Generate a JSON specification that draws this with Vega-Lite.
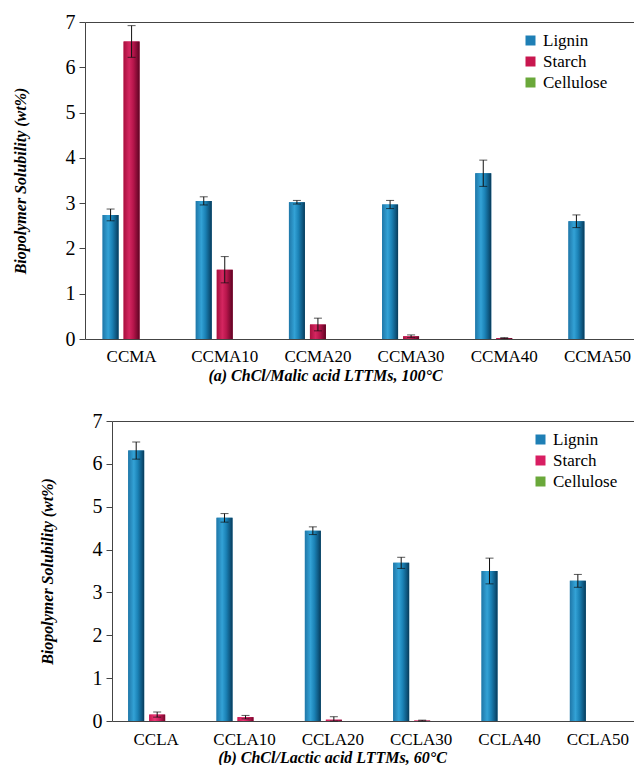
{
  "$schema": "https://vega.github.io/schema/vega-lite/v6.json",
  "padding": {"left": 4, "top": 12, "right": 0, "bottom": 0},
  "background": "white",
  "config": {
    "font": "Liberation Serif",
    "view": {"stroke": null},
    "axis": {"labelFont": "Liberation Serif", "titleFont": "Liberation Serif", "labelColor": "#000", "titleColor": "#000", "domainColor": "#444", "tickColor": "#444"},
    "legend": {"labelFont": "Liberation Serif", "labelColor": "#000"}
  },
  "resolve": {"scale": {"color": "independent"}, "legend": {"color": "independent"}},
  "datasets": {
    "a": [
      {"solvent": "CCMA", "polymer": "Lignin", "value": 2.74, "lo": 2.61, "hi": 2.87},
      {"solvent": "CCMA", "polymer": "Starch", "value": 6.57, "lo": 6.22, "hi": 6.92},
      {"solvent": "CCMA", "polymer": "Cellulose", "value": 0, "lo": null, "hi": null},
      {"solvent": "CCMA10", "polymer": "Lignin", "value": 3.05, "lo": 2.96, "hi": 3.14},
      {"solvent": "CCMA10", "polymer": "Starch", "value": 1.53, "lo": 1.24, "hi": 1.82},
      {"solvent": "CCMA10", "polymer": "Cellulose", "value": 0, "lo": null, "hi": null},
      {"solvent": "CCMA20", "polymer": "Lignin", "value": 3.02, "lo": 2.98, "hi": 3.06},
      {"solvent": "CCMA20", "polymer": "Starch", "value": 0.32, "lo": 0.18, "hi": 0.46},
      {"solvent": "CCMA20", "polymer": "Cellulose", "value": 0, "lo": null, "hi": null},
      {"solvent": "CCMA30", "polymer": "Lignin", "value": 2.97, "lo": 2.88, "hi": 3.06},
      {"solvent": "CCMA30", "polymer": "Starch", "value": 0.06, "lo": 0.03, "hi": 0.09},
      {"solvent": "CCMA30", "polymer": "Cellulose", "value": 0, "lo": null, "hi": null},
      {"solvent": "CCMA40", "polymer": "Lignin", "value": 3.66, "lo": 3.37, "hi": 3.95},
      {"solvent": "CCMA40", "polymer": "Starch", "value": 0.02, "lo": 0.01, "hi": 0.03},
      {"solvent": "CCMA40", "polymer": "Cellulose", "value": 0, "lo": null, "hi": null},
      {"solvent": "CCMA50", "polymer": "Lignin", "value": 2.6, "lo": 2.46, "hi": 2.74},
      {"solvent": "CCMA50", "polymer": "Starch", "value": 0, "lo": null, "hi": null},
      {"solvent": "CCMA50", "polymer": "Cellulose", "value": 0, "lo": null, "hi": null}
    ],
    "b": [
      {"solvent": "CCLA", "polymer": "Lignin", "value": 6.31, "lo": 6.11, "hi": 6.51},
      {"solvent": "CCLA", "polymer": "Starch", "value": 0.15, "lo": 0.09, "hi": 0.21},
      {"solvent": "CCLA", "polymer": "Cellulose", "value": 0, "lo": null, "hi": null},
      {"solvent": "CCLA10", "polymer": "Lignin", "value": 4.74, "lo": 4.64, "hi": 4.84},
      {"solvent": "CCLA10", "polymer": "Starch", "value": 0.09, "lo": 0.05, "hi": 0.13},
      {"solvent": "CCLA10", "polymer": "Cellulose", "value": 0, "lo": null, "hi": null},
      {"solvent": "CCLA20", "polymer": "Lignin", "value": 4.44, "lo": 4.35, "hi": 4.53},
      {"solvent": "CCLA20", "polymer": "Starch", "value": 0.03, "lo": 0.0, "hi": 0.1},
      {"solvent": "CCLA20", "polymer": "Cellulose", "value": 0, "lo": null, "hi": null},
      {"solvent": "CCLA30", "polymer": "Lignin", "value": 3.69, "lo": 3.56, "hi": 3.82},
      {"solvent": "CCLA30", "polymer": "Starch", "value": 0.01, "lo": 0.0, "hi": 0.02},
      {"solvent": "CCLA30", "polymer": "Cellulose", "value": 0, "lo": null, "hi": null},
      {"solvent": "CCLA40", "polymer": "Lignin", "value": 3.5, "lo": 3.2, "hi": 3.8},
      {"solvent": "CCLA40", "polymer": "Starch", "value": 0, "lo": null, "hi": null},
      {"solvent": "CCLA40", "polymer": "Cellulose", "value": 0, "lo": null, "hi": null},
      {"solvent": "CCLA50", "polymer": "Lignin", "value": 3.27, "lo": 3.12, "hi": 3.42},
      {"solvent": "CCLA50", "polymer": "Starch", "value": 0, "lo": null, "hi": null},
      {"solvent": "CCLA50", "polymer": "Cellulose", "value": 0, "lo": null, "hi": null}
    ]
  },
  "columns": 1,
  "align": "none",
  "spacing": 28,
  "concat": [
    {
      "spacing": 0,
      "hconcat": [
        {
          "width": 8,
          "height": 317,
          "data": {"values": [{}]},
          "mark": {"type": "point", "opacity": 0},
          "encoding": {}
        },
        {
          "width": 551,
          "height": 317,
          "data": {"name": "a"},
          "encoding": {
            "x": {"field": "solvent", "type": "nominal", "sort": null,
              "scale": {"domain": ["CCMA", "CCMA10", "CCMA20", "CCMA30", "CCMA40", "CCMA50"], "range": [0, 559], "paddingInner": 0.378, "paddingOuter": 0.189},
              "axis": {"title": "(a) ChCl/Malic acid LTTMs, 100°C", "titleX": 240, "ticks": false, "labelAngle": 0, "labelFontSize": 17, "labelPadding": 9, "titleFontSize": 16, "titleFontStyle": "italic", "titleFontWeight": "bold", "titlePadding": 3}},
            "xOffset": {"field": "polymer", "type": "nominal", "sort": null,
              "scale": {"domain": ["Lignin", "Starch", "Cellulose"], "paddingInner": 0.24, "paddingOuter": 0}}
          },
          "layer": [
            {
              "mark": {"type": "bar"},
              "encoding": {
                "y": {"field": "value", "type": "quantitative",
                  "scale": {"domain": [0, 7], "nice": false},
                  "axis": {"title": "Biopolymer Solubility (wt%)", "values": [0, 1, 2, 3, 4, 5, 6, 7], "labelFontSize": 20, "tickSize": 6, "labelPadding": 4, "titleFontSize": 16, "titleFontStyle": "italic", "titleFontWeight": "bold", "titlePadding": 37, "grid": true, "gridColor": "#444", "gridOpacity": {"condition": {"test": "datum.value === 7", "value": 1}, "value": 0}}},
                "color": {"field": "polymer", "type": "nominal", "sort": null,
                  "scale": {"domain": ["Lignin", "Starch", "Cellulose"], "range": ["#1e7fb5", "#c8174f", "#6aa83a"]},
                  "legend": {"title": null, "orient": "none", "legendX": 518, "legendY": 10, "symbolType": "square", "symbolSize": 100, "symbolStrokeWidth": 0, "labelFontSize": 17, "labelOffset": 4, "rowPadding": 3}}
              }
            },
            {
              "transform": [{"filter": "datum.polymer === 'Lignin'"}],
              "mark": {"type": "bar", "color": {"gradient": "linear", "x1": 0, "y1": 0, "x2": 1, "y2": 0, "stops": [{"offset": 0, "color": "#1f77a8"}, {"offset": 0.35, "color": "#33a2d6"}, {"offset": 0.6, "color": "#1b82b6"}, {"offset": 0.85, "color": "#0e5780"}, {"offset": 1, "color": "#083a58"}]}},
              "encoding": {"y": {"field": "value", "type": "quantitative"}}
            },
            {
              "transform": [{"filter": "datum.polymer === 'Starch'"}],
              "mark": {"type": "bar", "color": {"gradient": "linear", "x1": 0, "y1": 0, "x2": 1, "y2": 0, "stops": [{"offset": 0, "color": "#a8103e"}, {"offset": 0.35, "color": "#d42660"}, {"offset": 0.6, "color": "#b8164c"}, {"offset": 0.85, "color": "#800a32"}, {"offset": 1, "color": "#5a0422"}]}},
              "encoding": {"y": {"field": "value", "type": "quantitative"}}
            },
            {
              "transform": [{"filter": "datum.hi != null"}],
              "mark": {"type": "rule", "color": "#111", "strokeWidth": 1},
              "encoding": {"y": {"field": "lo", "type": "quantitative"}, "y2": {"field": "hi"}}
            },
            {
              "transform": [{"filter": "datum.hi != null"}],
              "mark": {"type": "tick", "color": "#111", "size": 8, "thickness": 1, "orient": "horizontal"},
              "encoding": {"y": {"field": "hi", "type": "quantitative"}}
            },
            {
              "transform": [{"filter": "datum.hi != null"}],
              "mark": {"type": "tick", "color": "#111", "size": 8, "thickness": 1, "orient": "horizontal"},
              "encoding": {"y": {"field": "lo", "type": "quantitative"}}
            }
          ]
        }
      ]
    },
    {
      "spacing": 0,
      "hconcat": [
        {
          "width": 35,
          "height": 300,
          "data": {"values": [{}]},
          "mark": {"type": "point", "opacity": 0},
          "encoding": {}
        },
        {
          "width": 524,
          "height": 300,
          "data": {"name": "b"},
          "encoding": {
            "x": {"field": "solvent", "type": "nominal", "sort": null,
              "scale": {"domain": ["CCLA", "CCLA10", "CCLA20", "CCLA30", "CCLA40", "CCLA50"], "range": [0, 530], "paddingInner": 0.367, "paddingOuter": 0.1835},
              "axis": {"title": "(b) ChCl/Lactic acid LTTMs, 60°C", "titleX": 220, "ticks": false, "labelAngle": 0, "labelFontSize": 17, "labelPadding": 10, "titleFontSize": 16, "titleFontStyle": "italic", "titleFontWeight": "bold", "titlePadding": 2}},
            "xOffset": {"field": "polymer", "type": "nominal", "sort": null,
              "scale": {"domain": ["Lignin", "Starch", "Cellulose"], "paddingInner": 0.2, "paddingOuter": 0}}
          },
          "layer": [
            {
              "mark": {"type": "bar"},
              "encoding": {
                "y": {"field": "value", "type": "quantitative",
                  "scale": {"domain": [0, 7], "nice": false},
                  "axis": {"title": "Biopolymer Solubility (wt%)", "values": [0, 1, 2, 3, 4, 5, 6, 7], "labelFontSize": 20, "tickSize": 6, "labelPadding": 4, "titleFontSize": 16, "titleFontStyle": "italic", "titleFontWeight": "bold", "titlePadding": 37, "grid": true, "gridColor": "#444", "gridOpacity": {"condition": {"test": "datum.value === 7", "value": 1}, "value": 0}}},
                "color": {"field": "polymer", "type": "nominal", "sort": null,
                  "scale": {"domain": ["Lignin", "Starch", "Cellulose"], "range": ["#1e7fb5", "#d81e62", "#6aa83a"]},
                  "legend": {"title": null, "orient": "none", "legendX": 528, "legendY": 10, "symbolType": "square", "symbolSize": 100, "symbolStrokeWidth": 0, "labelFontSize": 17, "labelOffset": 4, "rowPadding": 3}}
              }
            },
            {
              "transform": [{"filter": "datum.polymer === 'Lignin'"}],
              "mark": {"type": "bar", "color": {"gradient": "linear", "x1": 0, "y1": 0, "x2": 1, "y2": 0, "stops": [{"offset": 0, "color": "#1f77a8"}, {"offset": 0.35, "color": "#33a2d6"}, {"offset": 0.6, "color": "#1b82b6"}, {"offset": 0.85, "color": "#0e5780"}, {"offset": 1, "color": "#083a58"}]}},
              "encoding": {"y": {"field": "value", "type": "quantitative"}}
            },
            {
              "transform": [{"filter": "datum.polymer === 'Starch'"}],
              "mark": {"type": "bar", "color": {"gradient": "linear", "x1": 0, "y1": 0, "x2": 1, "y2": 0, "stops": [{"offset": 0, "color": "#c8184f"}, {"offset": 0.35, "color": "#ea3a76"}, {"offset": 0.6, "color": "#d21f60"}, {"offset": 0.85, "color": "#9c0f3e"}, {"offset": 1, "color": "#70082c"}]}},
              "encoding": {"y": {"field": "value", "type": "quantitative"}}
            },
            {
              "transform": [{"filter": "datum.hi != null"}],
              "mark": {"type": "rule", "color": "#111", "strokeWidth": 1},
              "encoding": {"y": {"field": "lo", "type": "quantitative"}, "y2": {"field": "hi"}}
            },
            {
              "transform": [{"filter": "datum.hi != null"}],
              "mark": {"type": "tick", "color": "#111", "size": 8, "thickness": 1, "orient": "horizontal"},
              "encoding": {"y": {"field": "hi", "type": "quantitative"}}
            },
            {
              "transform": [{"filter": "datum.hi != null"}],
              "mark": {"type": "tick", "color": "#111", "size": 8, "thickness": 1, "orient": "horizontal"},
              "encoding": {"y": {"field": "lo", "type": "quantitative"}}
            }
          ]
        }
      ]
    }
  ]
}
